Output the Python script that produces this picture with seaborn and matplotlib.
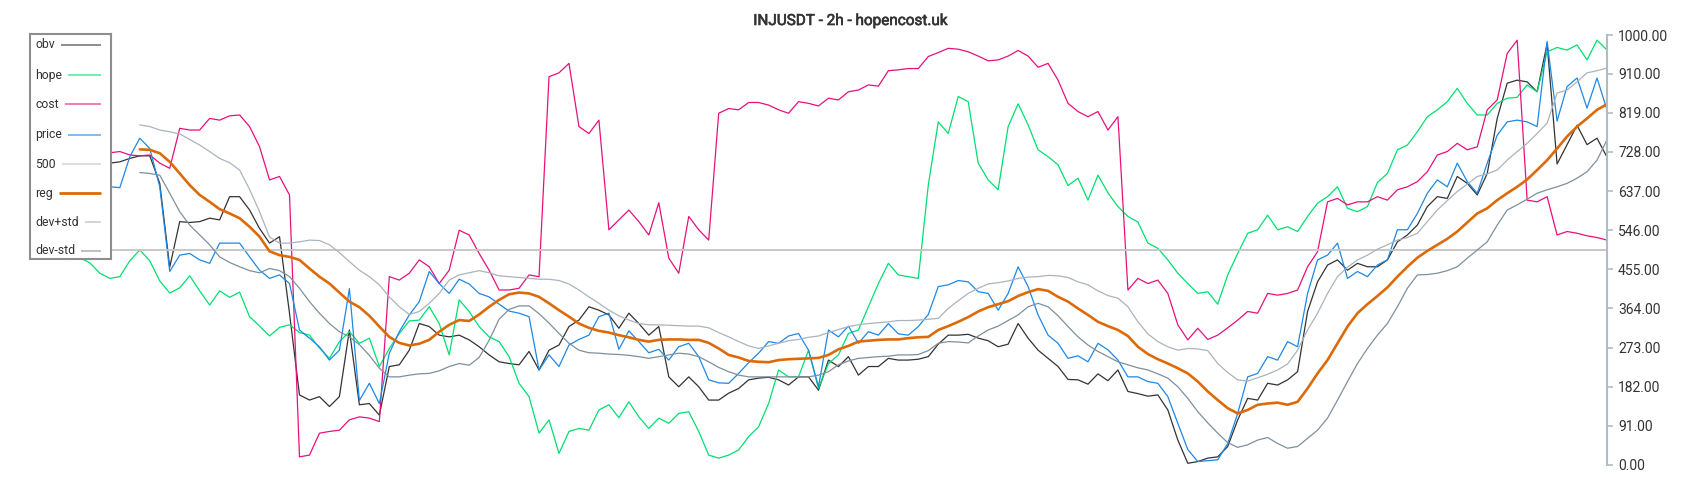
import numpy as np
import pandas as pd
import matplotlib
matplotlib.use("Agg")
import matplotlib.pyplot as plt
import matplotlib.patheffects as pe
import seaborn as sns

nan = np.nan

title = "INJUSDT - 2h - hopencost.uk"
y_ticks = [0, 91, 182, 273, 364, 455, 546, 637, 728, 819, 910, 1000]
level_500 = 500

obv = [
    705, 715, 700, 720, 705, 712, 700, 708, 702, 705,
    713, 719, 719, 655, 460, 566, 564, 566, 574, 570,
    624, 624, 593, 550, 516, 531, 353, 163, 151, 159,
    136, 159, 314, 140, 143, 116, 229, 233, 267, 329,
    322, 302, 298, 302, 291, 275, 256, 240, 236, 233,
    264, 221, 267, 279, 322, 337, 368, 360, 349, 318,
    353, 329, 302, 322, 205, 182, 205, 182, 151, 151,
    167, 178, 198, 202, 204, 198, 186, 205, 205, 174,
    244, 229, 252, 209, 229, 229, 248, 244, 244, 246,
    252, 281, 302, 302, 304, 295, 289, 275, 281, 329,
    295, 267, 248, 229, 199, 198, 188, 212, 196, 221,
    171, 166, 160, 163, 128, 58, 4, 8, 16, 19,
    43, 105, 155, 151, 190, 186, 198, 217, 357, 426,
    465, 477, 453, 469, 461, 461, 477, 519, 535, 558,
    601, 624, 620, 671, 655, 628, 678, 806, 888, 895,
    891, 868, 980, 700, 745, 790, 745, 760, 716,
]

hope = [
    495, 490, 500, 485, 478, 482, 470, 446, 434, 438,
    475, 500, 475, 428, 400, 412, 440, 405, 372, 405,
    390, 402, 345, 323, 300, 320, 326, 308, 302, 272,
    248, 287, 310, 283, 295, 229, 271, 306, 335, 337,
    368, 329, 256, 384, 357, 322, 298, 287, 252, 190,
    159, 74, 105, 27, 78, 85, 81, 128, 140, 110,
    147, 112, 85, 109, 97, 120, 124, 78, 23, 16,
    23, 35, 66, 89, 143, 221, 205, 205, 267, 178,
    236, 256, 306, 314, 368, 422, 469, 442, 438, 434,
    651, 798, 771, 857, 845, 702, 663, 640, 787, 840,
    791, 733, 717, 698, 650, 667, 616, 674, 633, 601,
    578, 565, 516, 504, 477, 446, 422, 399, 403, 374,
    442, 492, 539, 547, 581, 547, 554, 543, 578, 609,
    624, 647, 597, 589, 601, 657, 678, 733, 744, 775,
    810, 826, 845, 876, 841, 814, 814, 841, 853, 855,
    884, 868, 961, 971, 965, 977, 942, 988, 965,
]

cost = [
    720, 730, 715, 735, 725, 740, 730, 720, 726, 729,
    721, 719, 721, 702, 690, 783, 779, 779, 806, 802,
    812, 814, 787, 740, 663, 671, 628, 19, 23, 74,
    78, 81, 105, 112, 109, 101, 438, 430, 446, 477,
    461, 422, 453, 546, 535, 492, 453, 407, 407, 411,
    442, 438, 903, 912, 934, 787, 771, 802, 547, 570,
    593, 566, 535, 610, 481, 446, 578, 547, 523, 818,
    829, 826, 843, 843, 837, 826, 818, 845, 841, 835,
    853, 849, 868, 872, 884, 881, 917, 919, 922, 922,
    950, 959, 969, 967, 961, 951, 940, 942, 951, 964,
    951, 925, 934, 895, 841, 822, 810, 822, 779, 810,
    407, 434, 422, 430, 399, 326, 291, 318, 292, 302,
    319, 337, 357, 353, 399, 395, 399, 407, 461, 496,
    612, 620, 605, 612, 612, 624, 616, 640, 647, 659,
    682, 721, 729, 748, 733, 740, 826, 849, 957, 988,
    616, 612, 624, 535, 543, 539, 533, 529, 523,
]

price = [
    680, 690, 670, 695, 680, 665, 660, 650, 647, 645,
    717, 760, 736, 647, 450, 488, 492, 477, 469, 516,
    516, 516, 484, 453, 434, 442, 422, 314, 295, 275,
    244, 267, 410, 150, 190, 143, 260, 310, 349, 380,
    450, 422, 399, 432, 421, 399, 391, 374, 358, 353,
    345, 221, 256, 229, 279, 292, 302, 345, 353, 269,
    312, 287, 261, 269, 244, 275, 283, 252, 198, 191,
    190, 213, 238, 260, 287, 283, 300, 306, 267, 182,
    314, 298, 323, 283, 310, 302, 329, 305, 302, 322,
    350, 415, 419, 429, 426, 403, 399, 360, 399, 461,
    415, 349, 302, 283, 248, 254, 240, 283, 268, 244,
    205, 205, 194, 190, 159, 97, 36, 8, 10, 12,
    50, 120, 205, 213, 252, 244, 287, 275, 399, 477,
    488, 516, 434, 450, 438, 465, 477, 547, 547, 585,
    632, 663, 647, 702, 659, 632, 702, 767, 798, 802,
    798, 787, 985, 800, 880, 900, 830, 900, 826,
]

reg = [
    nan, nan, nan, nan, nan, nan, nan, nan, nan, nan,
    nan, 734, 733, 725, 705, 678, 651, 628, 612, 595,
    585, 574, 554, 531, 497, 488, 484, 477, 457, 438,
    422, 401, 380, 367, 347, 322, 298, 284, 278, 282,
    291, 310, 326, 337, 335, 350, 368, 384, 397, 401,
    399, 391, 376, 360, 345, 329, 319, 312, 308, 302,
    297, 291, 287, 291, 292, 292, 291, 291, 284, 271,
    256, 250, 242, 240, 239, 244, 246, 247, 248, 249,
    256, 269, 277, 287, 289, 291, 292, 292, 295, 297,
    298, 314, 323, 333, 344, 357, 367, 374, 381, 393,
    402, 409, 405, 391, 380, 364, 349, 333, 323, 314,
    300, 275, 258, 246, 236, 225, 213, 194, 171, 151,
    132, 120, 128, 140, 143, 145, 140, 147, 178, 213,
    244, 283, 322, 353, 374, 393, 413, 438, 461, 482,
    498, 512, 526, 543, 564, 585, 597, 616, 632, 647,
    664, 686, 709, 736, 764, 787, 806, 826, 839,
]

dev_plus_std = [
    nan, nan, nan, nan, nan, nan, nan, nan, nan, nan,
    nan, 791, 787, 779, 775, 770, 757, 744, 729, 713,
    703, 686, 641, 589, 530, 516, 516, 519, 523, 522,
    512, 494, 473, 453, 438, 419, 391, 368, 350, 357,
    376, 399, 430, 442, 447, 452, 447, 440, 438, 436,
    434, 432, 432, 429, 421, 407, 391, 376, 360, 347,
    337, 329, 326, 326, 325, 324, 323, 323, 319, 308,
    298, 287, 277, 271, 277, 283, 289, 292, 297, 300,
    308, 315, 322, 326, 329, 331, 333, 336, 336, 337,
    339, 341, 364, 382, 399, 411, 421, 424, 428, 434,
    437, 438, 441, 440, 436, 426, 419, 405, 394, 388,
    368, 333, 305, 287, 275, 267, 271, 270, 266, 236,
    215, 198, 195, 203, 211, 221, 235, 267, 314, 353,
    399, 438, 460, 477, 488, 502, 512, 523, 529, 539,
    566, 593, 615, 636, 653, 671, 677, 686, 709, 729,
    748, 771, 795, 865, 872, 891, 912, 917, 923,
]

dev_minus_std = [
    nan, nan, nan, nan, nan, nan, nan, nan, nan, nan,
    nan, 680, 678, 674, 632, 589, 558, 535, 512, 484,
    471, 461, 452, 447, 457, 452, 438, 411, 380, 353,
    329, 310, 298, 280, 255, 225, 205, 205, 209, 212,
    213, 219, 229, 236, 232, 250, 290, 339, 362, 370,
    370, 352, 330, 306, 283, 267, 261, 260, 258, 257,
    255, 252, 248, 252, 256, 260, 258, 252, 240, 227,
    217, 209, 205, 205, 205, 205, 205, 205, 205, 209,
    217, 233, 242, 248, 250, 252, 253, 256, 256, 257,
    266, 283, 287, 286, 284, 300, 314, 323, 336, 349,
    368, 376, 368, 347, 322, 298, 279, 264, 252, 240,
    233, 226, 221, 212, 202, 182, 155, 124, 98, 74,
    52, 41, 47, 58, 64, 50, 39, 43, 62, 81,
    109, 151, 194, 236, 271, 302, 329, 368, 411, 442,
    443, 446, 452, 461, 481, 500, 519, 558, 593, 605,
    618, 632, 640, 647, 655, 667, 682, 709, 756,
]

names = ["obv", "hope", "cost", "price", "500", "reg", "dev+std", "dev-std"]
colors = {
    "obv": "#333333",
    "hope": "#00e070",
    "cost": "#e8107c",
    "price": "#1e88e5",
    "500": "#c4c4c4",
    "reg": "#dd6a08",
    "dev+std": "#aab4bd",
    "dev-std": "#7f909c",
}
widths = {"obv": 0.9, "hope": 0.9, "cost": 0.9, "price": 0.9, "500": 1.3,
          "reg": 1.9, "dev+std": 0.9, "dev-std": 0.9}

n = len(obv)
t = np.arange(n)
df = pd.DataFrame({"t": t, "obv": obv, "hope": hope, "cost": cost, "price": price,
                   "reg": reg, "dev+std": dev_plus_std, "dev-std": dev_minus_std})

sns.set_style("white")
plt.rcParams["font.family"] = ["Roboto", "DejaVu Sans"]

W, H = 1700, 500
fig = plt.figure(figsize=(W / 100, H / 100), dpi=100)
ax = fig.add_axes([30 / W, 35 / H, 1577 / W, 430 / H])

for name in ["obv", "hope", "cost", "price"]:
    sns.lineplot(data=df, x="t", y=name, ax=ax, color=colors[name],
                 linewidth=widths[name], estimator=None, sort=False, legend=False)
ax.axhline(level_500, color=colors["500"], linewidth=widths["500"])
for name in ["reg", "dev+std", "dev-std"]:
    sub = df.dropna(subset=[name])
    sns.lineplot(data=sub, x="t", y=name, ax=ax, color=colors[name],
                 linewidth=widths[name], estimator=None, sort=False, legend=False)

ax.set_xlim(0, n - 1)
ax.set_ylim(0, 1000)
ax.set_xlabel("")
ax.set_ylabel("")
ax.set_xticks([])
ax.yaxis.tick_right()
ax.set_yticks(y_ticks)
ax.set_yticklabels([f"{v:.2f}" for v in y_ticks])
ax.tick_params(axis="y", which="both", direction="out", length=4, width=1.2,
               color="#b0bcc4", labelcolor="#333333", labelsize=10, pad=4)
for side in ["left", "top", "bottom"]:
    ax.spines[side].set_visible(False)
ax.spines["right"].set_color("#b0bcc4")
ax.spines["right"].set_linewidth(1.5)
ax.set_facecolor("white")

fig.text(0.5, 1 - 21 / H, title, ha="center", va="center", fontsize=11,
         color="#333333",
         path_effects=[pe.withStroke(linewidth=0.45, foreground="#333333")])

# legend box (label first, sample line running to the right edge)
lax = fig.add_axes([30 / W, 1 - 259 / H, 81 / W, 225 / H], zorder=5)
lax.set_xlim(0, 81)
lax.set_ylim(225, 0)
lax.set_xticks([])
lax.set_yticks([])
lax.set_facecolor("white")
for s in lax.spines.values():
    s.set_color("#8e8e8e")
    s.set_linewidth(1.5)
entry_y = [10.5, 41, 70, 100.5, 130, 159, 188, 217]
renderer = fig.canvas.get_renderer()
for name, yy in zip(names, entry_y):
    txt = lax.text(5, yy, name, ha="left", va="center", fontsize=8.8, color="#333333")
    bb = txt.get_window_extent(renderer=renderer)
    x_end = lax.transData.inverted().transform((bb.x1, bb.y0))[0]
    alpha = 1.0 if name == "reg" else 0.6
    lw = 2.0 if name == "reg" else 1.3
    lax.plot([x_end + 6, 70.7], [yy, yy], color=colors[name], linewidth=lw,
             alpha=alpha, solid_capstyle="butt")

fig.savefig("out.png", dpi=100)
